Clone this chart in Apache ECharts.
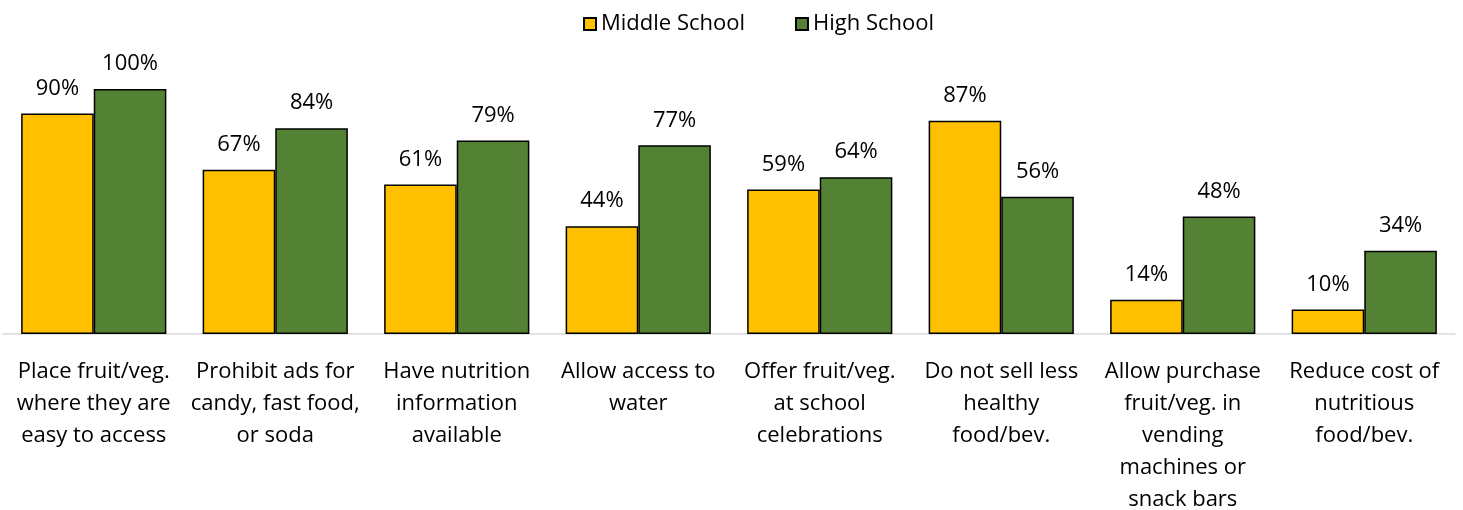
<!DOCTYPE html>
<html>
<head>
<meta charset="utf-8">
<script src="https://cdn.jsdelivr.net/npm/echarts@6/dist/echarts.min.js"></script>
<style>
  html, body { margin: 0; padding: 0; background: #fff; }
  #chart { width: 1463px; height: 510px; }
</style>
</head>
<body>
<div id="chart"></div>
<script>
// Practices reported by schools, share of middle and high schools (%)
const categories = [
  'Place fruit/veg.\nwhere they are\neasy to access',
  'Prohibit ads for\ncandy, fast food,\nor soda',
  'Have nutrition\ninformation\navailable',
  'Allow access to\nwater',
  'Offer fruit/veg.\nat school\ncelebrations',
  'Do not sell less\nhealthy\nfood/bev.',
  'Allow purchase\nfruit/veg. in\nvending\nmachines or\nsnack bars',
  'Reduce cost of\nnutritious\nfood/bev.'
];
const middleSchool = [90, 67, 61, 44, 59, 87, 14, 10];
const highSchool = [100, 84, 79, 77, 64, 56, 48, 34];
const seriesNames = ['Middle School', 'High School'];

const FONT = 'Open Sans';
const chart = echarts.init(document.getElementById('chart'), null, { renderer: 'canvas' });

const valueLabel = {
  show: true,
  position: 'top',
  distance: 14,
  formatter: p => p.value + '%',
  fontFamily: FONT,
  fontSize: 22,
  color: '#000',
  lineHeight: 22
};

chart.setOption({
  animation: false,
  legend: {
    top: 8,
    left: 578,
    itemWidth: 12,
    itemHeight: 12,
    itemGap: 50,
    textStyle: { fontFamily: FONT, fontSize: 22, color: '#000' },
    data: seriesNames.map(n => ({ name: n, icon: 'rect' }))
  },
  grid: {
    left: 3, right: 8, top: 89, bottom: 176,
    containLabel: false,
    outerBoundsMode: 'none'
  },
  xAxis: {
    type: 'category',
    data: categories,
    axisLine: { show: true, lineStyle: { color: '#d9d9d9', width: 1.5 } },
    axisTick: { show: false },
    axisLabel: {
      interval: 0,
      margin: 22,
      fontFamily: FONT,
      fontSize: 22,
      lineHeight: 32,
      color: '#000',
      align: 'center'
    }
  },
  yAxis: {
    type: 'value',
    min: 0,
    max: 100,
    show: false,
    splitLine: { show: false }
  },
  series: [
    {
      name: seriesNames[0],
      type: 'bar',
      data: middleSchool,
      barGap: '0%',
      barCategoryGap: '20%',
      itemStyle: { color: '#FFC000', borderColor: '#000', borderWidth: 1.5 },
      label: valueLabel
    },
    {
      name: seriesNames[1],
      type: 'bar',
      data: highSchool,
      barGap: '0%',
      barCategoryGap: '20%',
      itemStyle: { color: '#548235', borderColor: '#000', borderWidth: 1.5 },
      label: valueLabel
    }
  ]
});
</script>
</body>
</html>
